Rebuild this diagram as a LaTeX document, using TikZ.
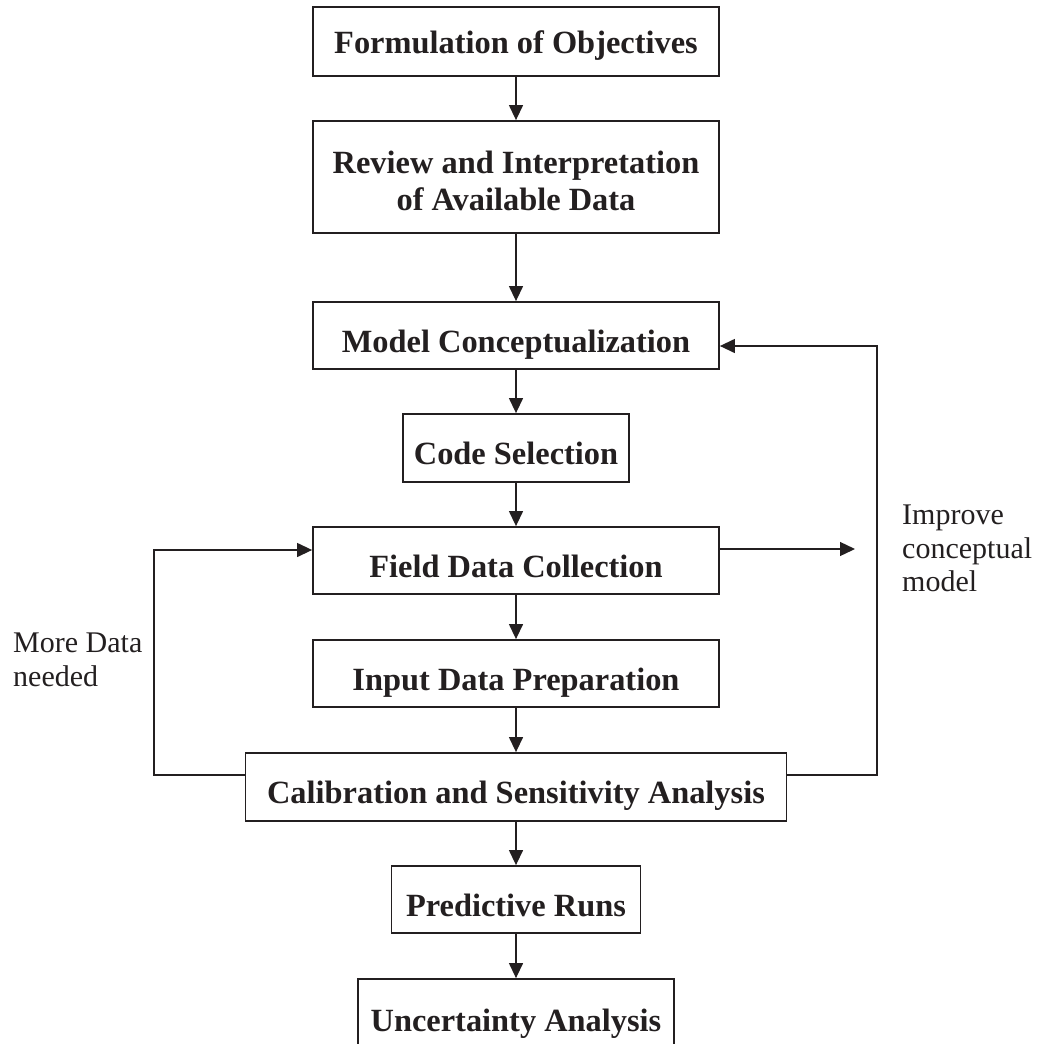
\documentclass[tikz,border=0pt]{standalone}
\usepackage{fontspec}
\setmainfont{Liberation Serif}
\usetikzlibrary{arrows.meta}
\definecolor{ink}{HTML}{231F20}
\begin{document}
\begin{tikzpicture}[x=1pt,y=-1pt,
  boxbase/.style={draw=ink, text=ink, line width=1.8pt, inner sep=0pt,
    font=\fontsize{32.4}{37}\selectfont\bfseries, align=center},
  box/.style={boxbase, text height=33pt, text depth=0pt},
  arr/.style={draw=ink, line width=1.3pt, -{Triangle[length=15pt,width=14pt]}},
  lbl/.style={text=ink, font=\fontsize{30}{33.5}\selectfont, align=left, anchor=north west, inner sep=0pt}]
\useasboundingbox (0,0) rectangle (1036,1044);
\node[boxbase, text height=24pt, text depth=0pt, minimum width=406pt, minimum height=69pt] (f1) at (516,41.5) {Formulation of Objectives};
\node[boxbase, text height=66pt, text depth=0pt, minimum width=406pt, minimum height=112pt] (f2) at (516,177) {Review and Interpretation\\of Available Data};
\node[box, minimum width=406pt, minimum height=67pt] (f3) at (516,335.5) {Model Conceptualization};
\node[box, minimum width=226pt, minimum height=68pt] (f4) at (516,448) {Code Selection};
\node[box, minimum width=406pt, minimum height=67pt] (f5) at (516,560.5) {Field Data Collection};
\node[box, minimum width=406pt, minimum height=67pt] (f6) at (516,673.5) {Input Data Preparation};
\node[box, minimum width=541pt, minimum height=68pt] (f7) at (516,787) {Calibration and Sensitivity Analysis};
\node[box, minimum width=249pt, minimum height=67pt] (f8) at (516,899.5) {Predictive Runs};
\node[box, minimum width=316pt, minimum height=72pt] (f9) at (516,1015) {Uncertainty Analysis};
\node[lbl] (imp) at (902,505) {Improve\\conceptual\\model};
\node[lbl] (more) at (13,633) {More Data\\needed};
\coordinate (rt) at (877,346);
\coordinate (lt) at (154,550);
\coordinate (tip) at (855,549);
\draw[arr] (f1) -- (f2);
\draw[arr] (f2) -- (f3);
\draw[arr] (f3) -- (f4);
\draw[arr] (f4) -- (f5);
\draw[arr] (f5) -- (f6);
\draw[arr] (f6) -- (f7);
\draw[arr] (f7) -- (f8);
\draw[arr] (f8) -- (f9);
\draw[arr] ([yshift=12pt]f7.east) -| (rt) -- ([yshift=-10.5pt]f3.east);
\draw[arr] ([yshift=12pt]f7.west) -| (lt) -- ([yshift=10.5pt]f5.west);
\draw[arr] ([yshift=11.5pt]f5.east) -- (tip);
\end{tikzpicture}
\end{document}
